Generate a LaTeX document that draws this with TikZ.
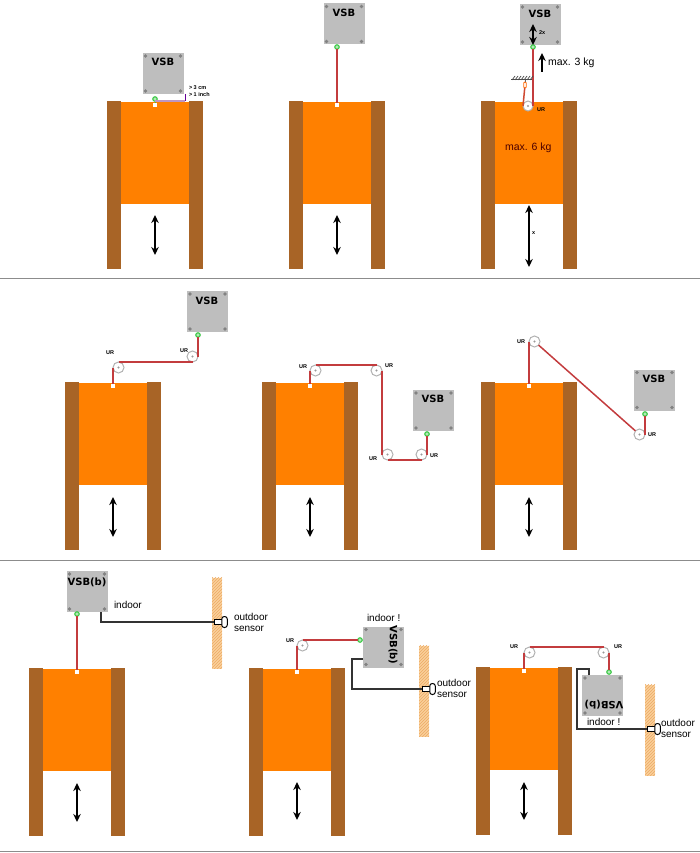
\documentclass[tikz,border=0pt]{standalone}
\usepackage{fontspec}
\setmainfont{Liberation Sans}
\newfontfamily\vsbfont{DejaVu Sans}
\usetikzlibrary{arrows.meta, patterns}
\definecolor{postbrown}{RGB}{168,100,38}
\definecolor{panelorange}{RGB}{255,128,0}
\definecolor{boxgray}{RGB}{190,190,190}
\definecolor{screwgray}{RGB}{130,130,130}
\definecolor{ropered}{RGB}{195,60,62}
\definecolor{plugline}{RGB}{60,200,70}
\definecolor{walltan}{RGB}{250,208,155}
\definecolor{wallhatch}{RGB}{236,170,100}
\definecolor{gapmauve}{RGB}{190,150,195}
\begin{document}
\begin{tikzpicture}[
  x=1pt, y=-1pt, >={Stealth[length=8pt,width=7.5pt]}, outer sep=0pt,
  post/.style={fill=postbrown, minimum width=14pt, minimum height=168pt, inner sep=0pt, anchor=north west},
  panel/.style={fill=panelorange, minimum width=68pt, minimum height=102pt, inner sep=0pt, anchor=north},
  hole/.style={fill=white, minimum size=4pt, inner sep=0pt},
  vsb/.style={fill=boxgray, minimum size=41pt, inner sep=0pt},
  vsbtext/.style={font=\vsbfont\fontsize{10}{12}\selectfont\bfseries, inner sep=0pt},
  plug/.style={circle, draw=plugline, fill=white!60!plugline, line width=1.1pt, minimum size=4.5pt, inner sep=0pt},
  pulley/.style={circle, draw=black!30, fill=white, line width=1pt, minimum size=11pt, inner sep=0pt},
  rope/.style={draw=ropered, line width=1.5pt},
  cable/.style={draw=black!80, line width=1.1pt},
  move/.style={<->, line width=1.6pt, black},
  urtext/.style={font=\fontsize{5.5}{6}\selectfont\bfseries, inner sep=0pt},
  note/.style={font=\fontsize{10}{12}\selectfont, inner sep=0pt, anchor=west},
  tiny/.style={font=\fontsize{5.5}{6.5}\selectfont\bfseries, inner sep=0pt, anchor=west},
  wall/.style={preaction={fill=walltan}, pattern=north east lines, pattern color=wallhatch, minimum width=10pt, minimum height=91pt, inner sep=0pt},
  sensbody/.style={draw=black, fill=white, line width=1pt, minimum width=8pt, minimum height=4.5pt, inner sep=0pt},
  senscap/.style={draw=black, fill=white, line width=1pt, rounded corners=2.5pt, minimum width=5.5pt, minimum height=11pt, inner sep=0pt},
]
\useasboundingbox (0,0) rectangle (700,853);

% row separators
\foreach \ysep in {278,560,851}
  \draw[black!45, line width=0.7pt] (0,\ysep) -- (700,\ysep);

% doors: name / centre x / top y / arrow top / arrow bottom
\foreach \name/\cx/\ty/\at/\ab in {d1/155/101/215/255, d2/337/101/215/255, d3/529/101/205/267,
    d4/113/382/497/537, d5/310/382/497/537, d6/529/382/497/537,
    d7/77/668/783/822, d8/297/668/782/820, d9/524/667/782/820} {
  \node[post] (\name l) at (\cx-48,\ty) {};
  \node[post] (\name r) at (\cx+34,\ty) {};
  \node[panel] (\name p) at (\cx,\ty+1) {};
  \node[hole] (\name h) at (\cx,\ty+4) {};
  \coordinate (\name t) at (\cx,\at);
  \coordinate (\name b) at (\cx,\ab);
  \draw[move] (\name t) -- (\name b);
}

% VSB boxes
\node[vsb] (v1) at (163,73.5) {};
\node[vsb] (v2) at (344,24) {};
\node[vsb] (v3) at (540,24.5) {};
\node[vsb] (v4) at (207.5,311.5) {};
\node[vsb] (v5) at (433.5,410.5) {};
\node[vsb] (v6) at (654.5,390) {};
\node[vsb] (v7) at (87,591.5) {};
\node[vsb] (v8) at (383.5,647) {};
\node[vsb] (v9) at (602.5,695.5) {};

% box screws
\foreach \vbox in {v1,v2,v3,v4,v5,v6,v7,v8,v9}
  \foreach \sx/\sy in {3/3,38/3,3/38,38/38}
    \fill[screwgray] ([xshift=\sx pt,yshift=\sy pt]\vbox.south west) circle (1.8pt);

% box labels
\node[vsbtext] (l1) at (163,62) {VSB};
\node[vsbtext] (l2) at (344,13) {VSB};
\node[vsbtext] (l3) at (540,14) {VSB};
\node[vsbtext] (l4) at (207,301) {VSB};
\node[vsbtext] (l5) at (433,399) {VSB};
\node[vsbtext] (l6) at (654,379) {VSB};
\node[vsbtext] (l7) at (87,582) {VSB(b)};
\node[vsbtext, rotate=-90] (l8) at (393,645) {VSB(b)};
\node[vsbtext, rotate=180] (l9) at (604,705) {VSB(b)};

% plugs
\node[plug] (g1) at (155,99) {};
\node[plug] (g2) at (337,47) {};
\node[plug] (g3) at (533,47) {};
\node[plug] (g4) at (198,335) {};
\node[plug] (g5) at (427,434) {};
\node[plug] (g6) at (645,414) {};
\node[plug] (g7) at (77,614) {};
\node[plug] (g8) at (360,640) {};
\node[plug] (g9) at (609,672) {};

% pulleys
\node[pulley, minimum size=10pt] (u3) at (528,106) {};
\node[pulley] (u4a) at (118.5,367.5) {};
\node[pulley] (u4b) at (192.5,356.5) {};
\node[pulley] (u5a) at (315.5,370.5) {};
\node[pulley] (u5b) at (376.5,370.5) {};
\node[pulley] (u5c) at (387.5,454.5) {};
\node[pulley] (u5d) at (421.5,454.5) {};
\node[pulley] (u6a) at (534.5,341.5) {};
\node[pulley] (u6b) at (639.5,434.5) {};
\node[pulley] (u8a) at (302.5,645.5) {};
\node[pulley] (u9a) at (529.5,652.5) {};
\node[pulley] (u9b) at (603.5,652.5) {};
\foreach \ucen in {u3,u4a,u4b,u5a,u5b,u5c,u5d,u6a,u6b,u8a,u9a,u9b}
  \fill[black!40] (\ucen) circle (1.2pt);

% ropes, top row
\draw[plugline, line width=1pt] (g1) -- (d1h);
\draw[rope] (g2) -- (d2h);
\draw[rope] (g3) -- (u3.east);

% ropes, middle row
\draw[rope] (d4h) -- (u4a.west);
\draw[rope] (u4a.north) -- (u4b.south);
\draw[rope] (u4b.east) -- (g4);
\draw[rope] (d5h) -- (u5a.west);
\draw[rope] (u5a.north) -- (u5b.north);
\draw[rope] (u5b.east) -- (u5c.west);
\draw[rope] (u5c.south) -- (u5d.south);
\draw[rope] (u5d.east) -- (g5);
\draw[rope] (d6h) -- (u6a.west);
\draw[rope] (u6a) -- (u6b);
\draw[rope] (u6b.east) -- (g6);

% ropes, bottom row
\draw[rope] (g7) -- (d7h);
\draw[rope] (d8h) -- (u8a.west);
\draw[rope] (u8a.north) -- (g8);
\draw[rope] (d9h) -- (u9a.west);
\draw[rope] (u9a.north) -- (u9b.north);
\draw[rope] (u9b.east) -- (g9);

% UR labels
\node[urtext] (t3) at (541,110) {UR};
\node[urtext] (t4a) at (110,353) {UR};
\node[urtext] (t4b) at (184,351) {UR};
\node[urtext] (t5a) at (303,367) {UR};
\node[urtext] (t5b) at (389,366) {UR};
\node[urtext] (t5c) at (373,459) {UR};
\node[urtext] (t5d) at (434,456) {UR};
\node[urtext] (t6a) at (521,342) {UR};
\node[urtext] (t6b) at (652,435) {UR};
\node[urtext] (t8a) at (290,641) {UR};
\node[urtext] (t9a) at (514,647) {UR};
\node[urtext] (t9b) at (618,647) {UR};

% clearance at first door
\coordinate (gaptop) at (185,94);
\coordinate (gapbot) at (185,101);
\draw[gapmauve, line width=1.2pt] (d1h |- gapbot) -- (gapbot);
\draw[blue!60!red, line width=0.8pt] (gaptop) -- (gapbot);
\node[tiny] (gap1) at (189,88) {> 3 cm};
\node[tiny] (gap2) at (189,95) {> 1 inch};

% third door, fixed end and loads
\node[inner sep=0pt, minimum width=21pt, minimum height=1pt, fill=black!70] (fix) at (521.5,80) {};
\foreach \tick in {512,515,...,530}
  \draw[black!70, line width=0.7pt] (\tick,80) -- (\tick+3,76);
\node[draw=orange!80!red, fill=white, line width=0.8pt, rounded corners=1pt, minimum width=2.5pt, minimum height=6pt, inner sep=0pt] (hook) at (525,85) {};
\draw[black!60] (fix.south -| hook) -- (hook);
\draw[rope, draw=ropered!80!orange] (hook) -- (u3.west);
\coordinate (twot) at (533,24);
\coordinate (twob) at (533,45);
\draw[move] (twot) -- (twob);
\node[tiny] (two) at (539,33) {2x};
\coordinate (upt) at (542,53);
\coordinate (upb) at (542,72);
\draw[->, line width=1.6pt] (upb) -- (upt);
\node[note, font=\fontsize{10.5}{12}\selectfont] (load3) at (548,63) {max. 3 kg};
\node[note, text=black!70!red, font=\fontsize{10.5}{12}\selectfont] (load6) at (505,148) {max. 6 kg};
\node[tiny] (xlab) at (532,233) {x};

% outdoor sensors
\node[wall] (w7) at (217,623) {};
\node[wall] (w8) at (424,691) {};
\node[wall] (w9) at (650,730) {};
\node[sensbody] (b7) at (218,622) {};
\node[sensbody] (b8) at (426,689) {};
\node[sensbody] (b9) at (651,729) {};
\node[senscap] (c7) at (224.5,622) {};
\node[senscap] (c8) at (432.5,689) {};
\node[senscap] (c9) at (657.5,729) {};
\node[note] (s7) at (234,617) {outdoor};
\node[note] (s7b) at (234,629) {sensor};
\node[note] (s8) at (437,683) {outdoor};
\node[note] (s8b) at (437,695) {sensor};
\node[note] (s9) at (661,723) {outdoor};
\node[note] (s9b) at (661,735) {sensor};
\node[note] (i7) at (114,605) {indoor};
\node[note] (i8) at (367,618) {indoor !};
\node[note] (i9) at (587,722) {indoor !};

% sensor cables
\coordinate (k7) at (101,612);
\coordinate (k8) at (363,659);
\coordinate (k9) at (589,675);
\coordinate (k9a) at (577,669);
\draw[cable] (k7) |- (b7);
\draw[cable] (k8) -| (352,689) -- (b8);
\draw[cable] (k9) |- (k9a) |- (b9);

\end{tikzpicture}
\end{document}
